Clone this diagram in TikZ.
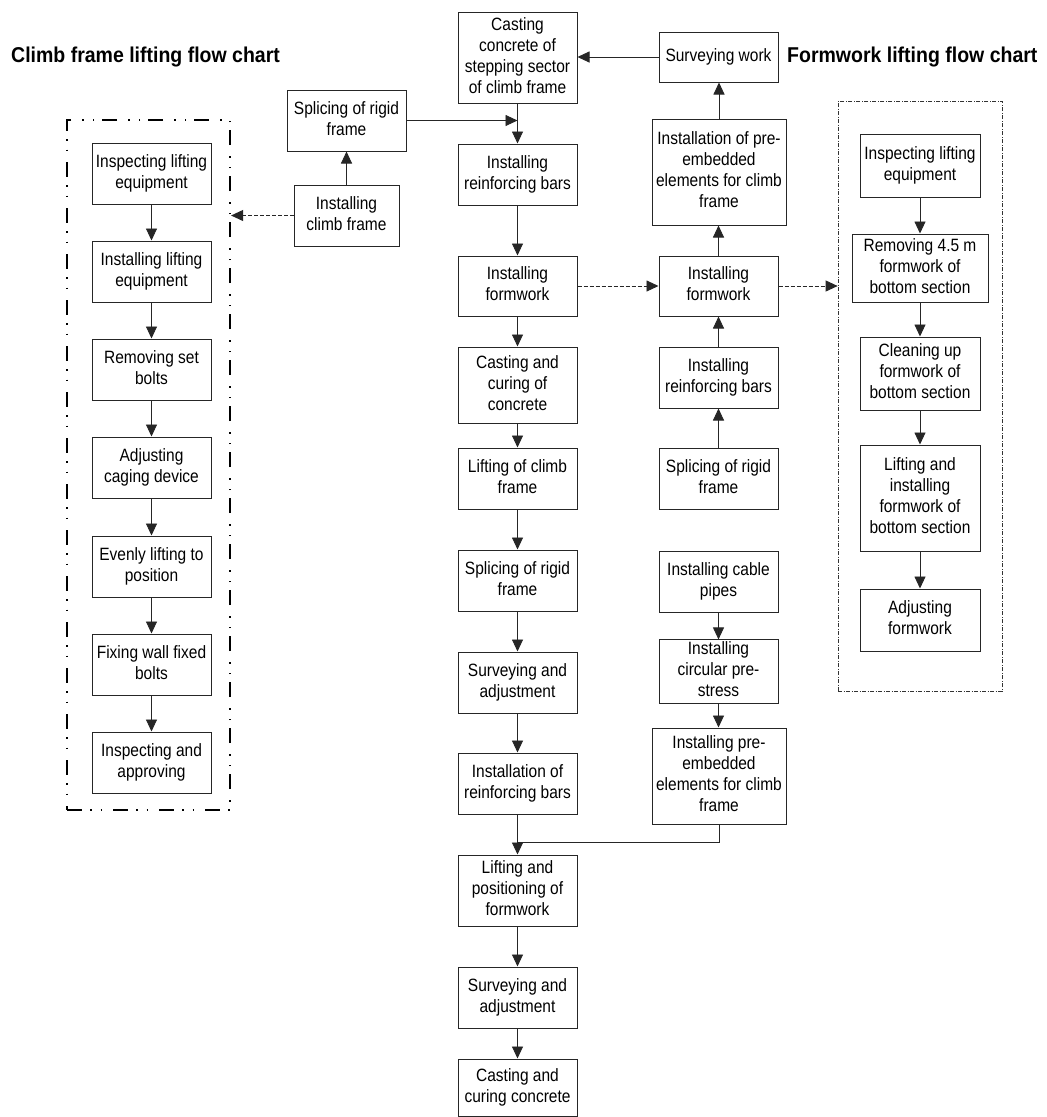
\documentclass[tikz,border=0pt]{standalone}
\usepackage{fontspec}
\setmainfont{Liberation Sans}
\usetikzlibrary{arrows.meta}
\newcommand\tx[1]{\scalebox{1}[1.15]{\fontsize{15.5}{18.3}\selectfont
  \begin{tabular}{@{}c@{}}#1\end{tabular}}}
\tikzset{
  box/.style={draw=black!85, line width=1pt, align=center, inner sep=0pt},
  arr/.style={-{Triangle[length=12pt,width=11pt]}, line width=0.9pt, draw=black!85},
  plain/.style={line width=0.9pt, draw=black!85},
  darr/.style={arr, dash pattern=on 4pt off 2pt},
  ttl/.style={font=\fontsize{19.5}{23}\selectfont\bfseries, inner sep=0pt, anchor=base west},
  lframe/.style={draw=black, line width=2.2pt, inner sep=0pt,
    dash pattern=on 15pt off 8pt on 1.5pt off 9pt on 1.5pt off 11pt},
  rframe/.style={draw=black!80, line width=0.7pt, inner sep=0pt,
    dash pattern=on 4pt off 1.5pt on 1pt off 1.5pt},
}
\newcommand\bx[6]{\node[box, minimum width={#3-#2}, minimum height={#5-#4}]
  (#1) at ({(#2+#3)/2},{(#4+#5)/2}) {\tx{#6}};}
\begin{document}
\begin{tikzpicture}[x=1pt,y=-1pt]
\useasboundingbox[fill=white] (0,0) rectangle (1047,1117);

% titles
\node[ttl] (t1) at (11,62.5) {\scalebox{1}[1.1]{Climb frame lifting flow chart}};
\node[ttl] (t2) at (787,62.5) {\scalebox{1}[1.1]{Formwork lifting flow chart}};

% frames
\node[lframe, minimum width=163, minimum height=690] (lfr) at (148.5,465) {};
\node[rframe, minimum width=164, minimum height=590] (rfr) at (920,396) {};

% centre column
\bx{cast0}{458}{577}{12}{103}{Casting\\concrete of\\stepping sector\\of climb frame}
\bx{rebarA}{458}{577}{144}{205}{Installing\\reinforcing bars}
\bx{formA}{458}{577}{256}{316}{Installing\\formwork}
\bx{castA}{458}{577}{347}{423}{Casting and\\curing of\\concrete}
\bx{liftA}{458}{577}{448}{509}{Lifting of climb\\frame}
\bx{spliceA}{458}{577}{550}{611}{Splicing of rigid\\frame}
\bx{survA}{458}{577}{652}{713}{Surveying and\\adjustment}
\bx{instA}{458}{577}{753}{814}{Installation of\\reinforcing bars}
\bx{liftpos}{458}{577}{855}{926}{Lifting and\\positioning of\\formwork}
\bx{survB}{458}{577}{967}{1028}{Surveying and\\adjustment}
\bx{castB}{458}{577}{1059}{1116}{Casting and\\curing concrete}

% right column
\bx{survW}{659}{778}{32}{82}{Surveying work}
\bx{preA}{652}{786}{119}{225}{Installation of pre-\\embedded\\elements for climb\\frame}
\bx{formB}{659}{778}{256}{316}{Installing\\formwork}
\bx{rebarB}{659}{778}{347}{408}{Installing\\reinforcing bars}
\bx{spliceB}{659}{778}{448}{509}{Splicing of rigid\\frame}
\bx{cable}{659}{778}{551}{612}{Installing cable\\pipes}
\bx{circ}{659}{778}{643}{700}{Installing\\circular pre-\\stress}
\bx{preB}{652}{786}{728}{824}{Installing pre-\\embedded\\elements for climb\\frame}

% top left
\bx{spliceT}{287}{406}{90}{151}{Splicing of rigid\\frame}
\bx{climbT}{294}{399}{185}{246}{Installing\\climb frame}

% left frame column
\bx{linsp}{92}{211}{143}{204}{Inspecting lifting\\equipment}
\bx{linst}{92}{211}{241}{302}{Installing lifting\\equipment}
\bx{lrem}{92}{211}{339}{400}{Removing set\\bolts}
\bx{ladj}{92}{211}{437}{498}{Adjusting\\caging device}
\bx{leven}{92}{211}{536}{597}{Evenly lifting to\\position}
\bx{lfix}{92}{211}{634}{695}{Fixing wall fixed\\bolts}
\bx{lappr}{92}{211}{732}{793}{Inspecting and\\approving}

% right frame column
\bx{rinsp}{860}{980}{134}{197}{Inspecting lifting\\equipment}
\bx{rrem}{852}{988}{234}{302}{Removing 4.5 m\\formwork of\\bottom section}
\bx{rclean}{860}{980}{337}{410}{Cleaning up\\formwork of\\bottom section}
\bx{rlift}{860}{980}{445}{551}{Lifting and\\installing\\formwork of\\bottom section}
\bx{radj}{860}{980}{589}{651}{Adjusting\\formwork}

% centre chain
\foreach \a/\b in {cast0/rebarA, rebarA/formA, formA/castA, castA/liftA, liftA/spliceA,
  spliceA/survA, survA/instA, instA/liftpos, liftpos/survB, survB/castB}
  \draw[arr] (\a.south) -- (\a.south |- \b.north);

% right chain (upwards)
\foreach \a/\b in {spliceB/rebarB, rebarB/formB, formB/preA, preA/survW}
  \draw[arr] (\a.north) -- (\a.north |- \b.south);
% right chain (downwards)
\foreach \a/\b in {cable/circ, circ/preB}
  \draw[arr] (\a.south) -- (\a.south |- \b.north);

% left chain
\foreach \a/\b in {linsp/linst, linst/lrem, lrem/ladj, ladj/leven, leven/lfix, lfix/lappr}
  \draw[arr] (\a.south) -- (\a.south |- \b.north);

% right frame chain
\foreach \a/\b in {rinsp/rrem, rrem/rclean, rclean/rlift, rlift/radj}
  \draw[arr] (\a.south) -- (\a.south |- \b.north);

% other connectors
\draw[arr] (climbT.north) -- (climbT.north |- spliceT.south);
\draw[arr] (spliceT.east) -- (spliceT.east -| cast0.south);
\draw[darr] (climbT.west) -- (climbT.west -| lfr.east);
\draw[arr] (survW.west) -- (survW.west -| cast0.east);
\draw[darr] (formA.east) -- (formB.west);
\draw[darr] (formB.east) -- (formB.east -| rfr.west);
\coordinate (jB) at (517.5,842);
\draw[plain] (preB.south) |- (jB);
\end{tikzpicture}
\end{document}
